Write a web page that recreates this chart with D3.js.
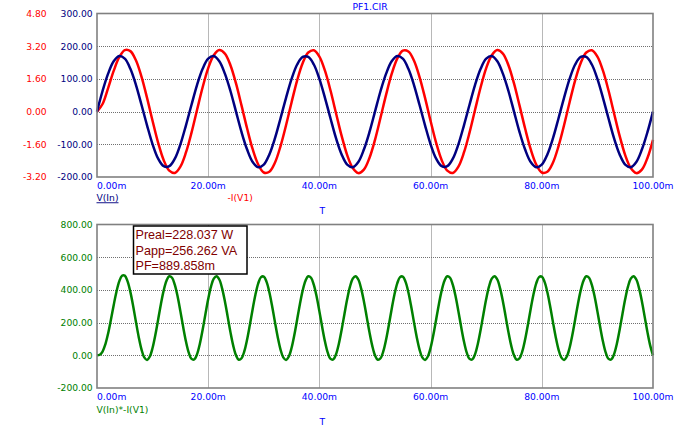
<!DOCTYPE html>
<html>
<head>
<meta charset="utf-8">
<script src="https://cdn.jsdelivr.net/npm/d3@7/dist/d3.min.js"></script>
<style>
  html, body { margin: 0; padding: 0; background: #ffffff; }
  svg { display: block; }
</style>
</head>
<body>
<svg id="chart" width="681" height="430"></svg>
<script>
// ---------------- DATA ----------------
const titleText = "PF1.CIR";
const xTicks = [0, 20, 40, 60, 80, 100];            // ms
const xTickLabels = ["0.00m", "20.00m", "40.00m", "60.00m", "80.00m", "100.00m"];

const topLeftTicks = [300, 200, 100, 0, -100, -200];
const topLeftLabels = ["300.00", "200.00", "100.00", "0.00", "-100.00", "-200.00"];
const topRightTicks = [4.8, 3.2, 1.6, 0, -1.6, -3.2];
const topRightLabels = ["4.80", "3.20", "1.60", "0.00", "-1.60", "-3.20"];
const bottomTicks = [800, 600, 400, 200, 0, -200];
const bottomLabels = ["800.00", "600.00", "400.00", "200.00", "0.00", "-200.00"];

const seriesNames = ["V(In)", "-I(V1)", "V(In)*-I(V1)"];
const xAxisTitle = "T";
const annotationLines = ["Preal=228.037 W", "Papp=256.262 VA", "PF=889.858m"];

// V(In), volts, sampled every 1 ms from 0 to 100 ms
const vStepMs = 1;
const vIn = [
  0,63,116,154,170,162,131,82,21,-42,-100,-144,-167,-167,-144,-100,-42,21,82,131,
  162,170,154,116,63,0,-63,-116,-154,-170,-162,-131,-82,-21,42,100,144,167,167,144,
  100,42,-21,-82,-131,-162,-170,-154,-116,-63,0,
  63,116,154,170,162,131,82,21,-42,-100,-144,-167,-167,-144,-100,-42,21,82,131,
  162,170,154,116,63,0,-63,-116,-154,-170,-162,-131,-82,-21,42,100,144,167,167,144,
  100,42,-21,-82,-131,-162,-170,-154,-116,-63,0
];
// -I(V1), amps, sampled every 1 ms from 0 to 100 ms
const iV1 = [
  0,0.37,1.15,1.99,2.66,3.01,2.96,2.51,1.71,0.67,-0.46,
  -1.53,-2.38,-2.89,-3.00,-2.69,-2.00,-1.03,0.09,1.19,2.13,
  2.76,3.01,2.84,2.27,1.38,0.29,-0.83,-1.84,-2.59,-2.98,
  -2.94,-2.50,-1.70,-0.67,0.46,1.53,2.38,2.89,3.00,2.69,
  2.00,1.03,-0.09,-1.19,-2.13,-2.76,-3.01,-2.84,-2.27,-1.38,
  -0.29,0.83,1.84,2.59,2.98,2.94,2.50,1.70,0.67,-0.46,
  -1.53,-2.38,-2.89,-3.00,-2.69,-2.00,-1.03,0.09,1.19,2.13,
  2.76,3.01,2.84,2.27,1.38,0.29,-0.83,-1.84,-2.59,-2.98,
  -2.94,-2.50,-1.70,-0.67,0.46,1.53,2.38,2.89,3.00,2.69,
  2.00,1.03,-0.09,-1.19,-2.13,-2.76,-3.01,-2.84,-2.27,-1.38
];
// V(In)*-I(V1), watts, sampled every 0.5 ms from 0 to 100 ms
const pStepMs = 0.5;
const power = [
  0,3.4,23.1,66.8,133.8,217.4,306.6,388.9,451.9,486.5,486.9,452.5,387.8,301.5,205.2,112.6,36.3,-12.9,-28.1,-7.4,
  46.4,125.7,219.4,314.3,396.9,456.1,483.1,474.3,430.9,359.1,268.8,172.8,84.5,16.5,-21.9,-25.2,7.2,70.5,155.9,251.6,
  343.8,419.8,469.0,484.2,463.5,409.7,330.4,236.7,141.8,59.2,
  0,-27.0,-18.2,25.2,97.0,187.3,283.3,371.6,439.6,478.0,481.3,448.9,385.6,300.2,204.5,112.3,36.3,-12.9,-28.1,-7.4,
  46.4,125.7,219.4,314.3,396.9,456.1,483.1,474.3,430.9,359.1,268.8,172.8,84.5,16.5,-21.9,-25.2,7.2,70.5,155.9,251.6,
  343.8,419.8,469.0,484.2,463.5,409.7,330.4,236.7,141.8,59.2,
  0,-27.0,-18.2,25.2,97.0,187.3,283.3,371.6,439.6,478.0,481.3,448.9,385.6,300.2,204.5,112.3,36.3,-12.9,-28.1,-7.4,
  46.4,125.7,219.4,314.3,396.9,456.1,483.1,474.3,430.9,359.1,268.8,172.8,84.5,16.5,-21.9,-25.2,7.2,70.5,155.9,251.6,
  343.8,419.8,469.0,484.2,463.5,409.7,330.4,236.7,141.8,59.2,
  0,-27.0,-18.2,25.2,97.0,187.3,283.3,371.6,439.6,478.0,481.3,448.9,385.6,300.2,204.5,112.3,36.3,-12.9,-28.1,-7.4,
  46.4,125.7,219.4,314.3,396.9,456.1,483.1,474.3,430.9,359.1,268.8,172.8,84.5,16.5,-21.9,-25.2,7.2,70.5,155.9,251.6,
  343.8,419.8,469.0,484.2,463.5,409.7,330.4,236.7,141.8,59.2,
  0
];

// ---------------- LAYOUT ----------------
const svg = d3.select("#chart");
const L = 97, R = 653;
const top1 = { y0: 13.5, y1: 177 };
const top2 = { y0: 224.5, y1: 388 };
const tickFont = "'DejaVu Sans', Verdana, sans-serif";
const C = { navy: "#000080", red: "#ff0000", green: "#008000", blue: "#0000ff", grid: "#707070", frame: "#808080", ann: "#800000" };

const x = d3.scaleLinear().domain([0, 100]).range([L, R]);
const yV = d3.scaleLinear().domain([-200, 300]).range([top1.y1, top1.y0]);
const yI = d3.scaleLinear().domain([-3.2, 4.8]).range([top1.y1, top1.y0]);
const yP = d3.scaleLinear().domain([-200, 800]).range([top2.y1, top2.y0]);

function grid(g, yScale, yTicks, panel) {
  g.selectAll(null).data(xTicks.slice(1, -1)).enter().append("line")
    .attr("x1", d => Math.round(x(d)) + 0.5).attr("x2", d => Math.round(x(d)) + 0.5)
    .attr("y1", panel.y0).attr("y2", panel.y1)
    .attr("stroke", C.grid).attr("stroke-width", 1).attr("stroke-dasharray", "1,1");
  g.selectAll(null).data(yTicks.slice(1, -1)).enter().append("line")
    .attr("x1", L).attr("x2", R)
    .attr("y1", d => Math.round(yScale(d)) + 0.5).attr("y2", d => Math.round(yScale(d)) + 0.5)
    .attr("stroke", C.grid).attr("stroke-width", 1).attr("stroke-dasharray", "1,1");
}

function yLabels(g, yScale, ticks, labels, xr, color) {
  g.selectAll(null).data(ticks).enter().append("text")
    .attr("x", xr).attr("y", d => yScale(d) + 3.4)
    .attr("text-anchor", "end")
    .attr("font-family", tickFont).attr("font-size", 9.2)
    .attr("fill", color)
    .text((d, i) => labels[i]);
}

function xLabels(g, panel) {
  g.selectAll(null).data(xTicks).enter().append("text")
    .attr("x", d => x(d)).attr("y", panel.y1 + 11.5)
    .attr("text-anchor", (d, i) => i === 0 ? "start" : "middle")
    .attr("font-family", tickFont).attr("font-size", 9.2)
    .attr("fill", C.blue)
    .text((d, i) => xTickLabels[i]);
}

function frame(g, panel) {
  g.append("rect").attr("x", L).attr("y", panel.y0)
    .attr("width", R - L).attr("height", panel.y1 - panel.y0)
    .attr("fill", "none").attr("stroke", C.frame).attr("stroke-width", 1.6);
}

// ---------- Top panel ----------
const g1 = svg.append("g");
grid(g1, yV, topLeftTicks, top1);

const lineV = d3.line().x((d, i) => x(i * vStepMs)).y(d => yV(d)).curve(d3.curveCatmullRom.alpha(0.5));
const lineI = d3.line().x((d, i) => x(i * vStepMs)).y(d => yI(d)).curve(d3.curveCatmullRom.alpha(0.5));
g1.append("path").datum(iV1).attr("d", lineI).attr("fill", "none").attr("stroke", C.red).attr("stroke-width", 2.5);
g1.append("path").datum(vIn).attr("d", lineV).attr("fill", "none").attr("stroke", C.navy).attr("stroke-width", 2.5);
frame(g1, top1);
yLabels(g1, yV, topLeftTicks, topLeftLabels, 92.7, C.navy);
yLabels(g1, yI, topRightTicks, topRightLabels, 46.7, C.red);
xLabels(g1, top1);

svg.append("text").attr("x", 370).attr("y", 10.3).attr("text-anchor", "middle")
  .attr("font-family", tickFont).attr("font-size", 9.2).attr("fill", C.blue).text(titleText);

g1.append("text").attr("x", 96.5).attr("y", 201.3)
  .attr("font-family", tickFont).attr("font-size", 9.2).attr("fill", C.navy)
  .attr("text-decoration", "underline").text(seriesNames[0]);
g1.append("text").attr("x", 227.5).attr("y", 201.3)
  .attr("font-family", tickFont).attr("font-size", 9.2).attr("fill", C.red).text(seriesNames[1]);
g1.append("text").attr("x", 322.3).attr("y", 214).attr("text-anchor", "middle")
  .attr("font-family", tickFont).attr("font-size", 9.2).attr("fill", C.blue).text(xAxisTitle);

// ---------- Bottom panel ----------
const g2 = svg.append("g");
grid(g2, yP, bottomTicks, top2);
const lineP = d3.line().x((d, i) => x(i * pStepMs)).y(d => yP(d)).curve(d3.curveCatmullRom.alpha(0.5));
g2.append("path").datum(power).attr("d", lineP).attr("fill", "none").attr("stroke", C.green).attr("stroke-width", 2.5);
frame(g2, top2);
yLabels(g2, yP, bottomTicks, bottomLabels, 92.7, C.green);
xLabels(g2, top2);
g2.append("text").attr("x", 96.5).attr("y", 412.5)
  .attr("font-family", tickFont).attr("font-size", 9.2).attr("fill", C.green).text(seriesNames[2]);
g2.append("text").attr("x", 322.3).attr("y", 425).attr("text-anchor", "middle")
  .attr("font-family", tickFont).attr("font-size", 9.2).attr("fill", C.blue).text(xAxisTitle);

// annotation box
const ann = svg.append("g");
ann.append("rect").attr("x", 133.5).attr("y", 226).attr("width", 113.5).attr("height", 48)
  .attr("fill", "#ffffff").attr("stroke", "#000000").attr("stroke-width", 1.5);
ann.selectAll(null).data(annotationLines).enter().append("text")
  .attr("x", 135.5).attr("y", (d, i) => 239 + i * 15.5)
  .attr("font-family", "'Liberation Sans', Arial, sans-serif").attr("font-size", 12.6)
  .attr("fill", C.ann).text(d => d);
</script>
</body>
</html>
